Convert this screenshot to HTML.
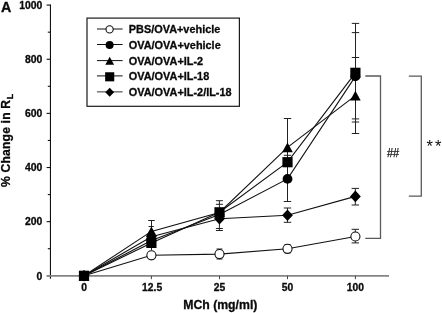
<!DOCTYPE html><html><head><meta charset="utf-8"><style>html,body{margin:0;padding:0;background:#fff}svg{display:block;opacity:0.999;will-change:transform}text{font-family:"Liberation Sans",sans-serif;fill:#0a0a0a}text[font-weight=bold]{stroke:#0a0a0a;stroke-width:0.3px}</style></head><body>
<svg width="442" height="313" viewBox="0 0 442 313">
<rect width="442" height="313" fill="#fff"/>
<g stroke="#111" stroke-width="1.1" fill="none">
<line x1="50.45" y1="4.6" x2="50.45" y2="278.8"/>
<line x1="46.6" y1="275.80" x2="50.45" y2="275.80"/>
<line x1="46.6" y1="221.66" x2="50.45" y2="221.66"/>
<line x1="46.6" y1="167.52" x2="50.45" y2="167.52"/>
<line x1="46.6" y1="113.38" x2="50.45" y2="113.38"/>
<line x1="46.6" y1="59.24" x2="50.45" y2="59.24"/>
<line x1="46.6" y1="5.10" x2="50.45" y2="5.10"/>
<line x1="47.8" y1="248.73" x2="50.45" y2="248.73"/>
<line x1="47.8" y1="194.59" x2="50.45" y2="194.59"/>
<line x1="47.8" y1="140.45" x2="50.45" y2="140.45"/>
<line x1="47.8" y1="86.31" x2="50.45" y2="86.31"/>
<line x1="47.8" y1="32.17" x2="50.45" y2="32.17"/>
</g>
<g stroke="#858585" stroke-width="1.6" fill="none">
<line x1="47" y1="275.90000000000003" x2="389" y2="275.90000000000003"/>
<line x1="151.4" y1="275.8" x2="151.4" y2="279.2" stroke="#444" stroke-width="1"/>
<line x1="219.5" y1="275.8" x2="219.5" y2="279.2" stroke="#444" stroke-width="1"/>
<line x1="287.5" y1="275.8" x2="287.5" y2="279.2" stroke="#444" stroke-width="1"/>
<line x1="355.4" y1="275.8" x2="355.4" y2="279.2" stroke="#444" stroke-width="1"/>
</g>
<line x1="151.5" y1="220.5" x2="151.5" y2="250" stroke="#222" stroke-width="1"/>
<line x1="148.2" y1="220.5" x2="154.8" y2="220.5" stroke="#222" stroke-width="1"/>
<line x1="151.2" y1="226.5" x2="151.2" y2="226.5" stroke="#222" stroke-width="1"/>
<line x1="148.6" y1="226.5" x2="153.79999999999998" y2="226.5" stroke="#222" stroke-width="1"/>
<line x1="219.4" y1="200.7" x2="219.4" y2="230.5" stroke="#222" stroke-width="1"/>
<line x1="215.9" y1="200.7" x2="222.9" y2="200.7" stroke="#222" stroke-width="1"/>
<line x1="215.9" y1="204.3" x2="222.9" y2="204.3" stroke="#222" stroke-width="1"/>
<line x1="215.9" y1="228.5" x2="222.9" y2="228.5" stroke="#222" stroke-width="1"/>
<line x1="215.9" y1="230.5" x2="222.9" y2="230.5" stroke="#222" stroke-width="1"/>
<line x1="219.5" y1="249" x2="219.5" y2="259" stroke="#222" stroke-width="1"/>
<line x1="216.5" y1="249" x2="222.5" y2="249" stroke="#222" stroke-width="1"/>
<line x1="216.5" y1="259" x2="222.5" y2="259" stroke="#222" stroke-width="1"/>
<line x1="287.5" y1="118.5" x2="287.5" y2="201.5" stroke="#222" stroke-width="1"/>
<line x1="283.8" y1="118.5" x2="291.2" y2="118.5" stroke="#222" stroke-width="1"/>
<line x1="283.8" y1="155.3" x2="291.2" y2="155.3" stroke="#222" stroke-width="1"/>
<line x1="283.8" y1="201.5" x2="291.2" y2="201.5" stroke="#222" stroke-width="1"/>
<line x1="287.5" y1="208" x2="287.5" y2="222.3" stroke="#222" stroke-width="1"/>
<line x1="283.8" y1="208" x2="291.2" y2="208" stroke="#222" stroke-width="1"/>
<line x1="283.8" y1="222.3" x2="291.2" y2="222.3" stroke="#222" stroke-width="1"/>
<line x1="287.6" y1="244.5" x2="287.6" y2="253" stroke="#222" stroke-width="1"/>
<line x1="284.6" y1="244.5" x2="290.6" y2="244.5" stroke="#222" stroke-width="1"/>
<line x1="284.6" y1="253" x2="290.6" y2="253" stroke="#222" stroke-width="1"/>
<line x1="355.5" y1="23.4" x2="355.5" y2="133.5" stroke="#222" stroke-width="1"/>
<line x1="351.8" y1="23.4" x2="359.2" y2="23.4" stroke="#222" stroke-width="1"/>
<line x1="351.8" y1="32.6" x2="359.2" y2="32.6" stroke="#222" stroke-width="1"/>
<line x1="351.8" y1="57.5" x2="359.2" y2="57.5" stroke="#222" stroke-width="1"/>
<line x1="351.8" y1="118.9" x2="359.2" y2="118.9" stroke="#222" stroke-width="1"/>
<line x1="351.8" y1="122" x2="359.2" y2="122" stroke="#222" stroke-width="1"/>
<line x1="351.8" y1="133.5" x2="359.2" y2="133.5" stroke="#222" stroke-width="1"/>
<line x1="355.3" y1="188.4" x2="355.3" y2="205" stroke="#222" stroke-width="1"/>
<line x1="351.6" y1="188.4" x2="359.0" y2="188.4" stroke="#222" stroke-width="1"/>
<line x1="351.6" y1="205" x2="359.0" y2="205" stroke="#222" stroke-width="1"/>
<line x1="355.3" y1="229.3" x2="355.3" y2="242.9" stroke="#222" stroke-width="1"/>
<line x1="351.6" y1="229.3" x2="359.0" y2="229.3" stroke="#222" stroke-width="1"/>
<line x1="351.6" y1="242.9" x2="359.0" y2="242.9" stroke="#222" stroke-width="1"/>
<g stroke="#111" stroke-width="1.1" fill="none">
<polyline points="84.0,275.8 151.4,255.3 219.5,254.1 287.5,248.8 355.4,236.5"/>
<polyline points="84.0,275.8 151.4,240.5 219.5,214.6 287.5,178.9 355.4,76.4"/>
<polyline points="84.0,275.8 151.4,231.4 219.5,212.5 287.5,147.3 355.4,95.6"/>
<polyline points="84.0,275.8 151.4,242.9 219.5,212.3 287.5,162.2 355.4,72.8"/>
<polyline points="84.0,275.8 151.4,236.8 219.5,218.7 287.5,215.2 355.4,196.4"/>
</g>
<circle cx="84.0" cy="275.8" r="4.55" fill="#fff" stroke="#111" stroke-width="1.1"/>
<circle cx="151.4" cy="255.3" r="4.55" fill="#fff" stroke="#111" stroke-width="1.1"/>
<circle cx="219.5" cy="254.1" r="4.55" fill="#fff" stroke="#111" stroke-width="1.1"/>
<circle cx="287.5" cy="248.8" r="4.55" fill="#fff" stroke="#111" stroke-width="1.1"/>
<circle cx="355.4" cy="236.5" r="4.55" fill="#fff" stroke="#111" stroke-width="1.1"/>
<circle cx="84.0" cy="275.8" r="4.9" fill="#000"/>
<circle cx="151.4" cy="240.5" r="4.9" fill="#000"/>
<circle cx="219.5" cy="214.6" r="4.9" fill="#000"/>
<circle cx="287.5" cy="178.9" r="4.9" fill="#000"/>
<circle cx="355.4" cy="76.4" r="4.9" fill="#000"/>
<polygon points="84.0,270.95 89.3,280.65000000000003 78.7,280.65000000000003" fill="#000"/>
<polygon points="151.4,226.55 156.70000000000002,236.25 146.1,236.25" fill="#000"/>
<polygon points="219.5,207.65 224.8,217.35 214.2,217.35" fill="#000"/>
<polygon points="287.5,142.45000000000002 292.8,152.15 282.2,152.15" fill="#000"/>
<polygon points="355.4,90.75 360.7,100.44999999999999 350.09999999999997,100.44999999999999" fill="#000"/>
<polygon points="84.0,270.0 89.4,275.8 84.0,281.6 78.6,275.8" fill="#000"/>
<polygon points="151.4,231.0 156.8,236.8 151.4,242.60000000000002 146.0,236.8" fill="#000"/>
<polygon points="219.5,212.89999999999998 224.9,218.7 219.5,224.5 214.1,218.7" fill="#000"/>
<polygon points="287.5,209.39999999999998 292.9,215.2 287.5,221.0 282.1,215.2" fill="#000"/>
<polygon points="355.4,190.6 360.79999999999995,196.4 355.4,202.20000000000002 350.0,196.4" fill="#000"/>
<rect x="78.9" y="270.7" width="10.2" height="10.2" fill="#000"/>
<rect x="146.3" y="237.8" width="10.2" height="10.2" fill="#000"/>
<rect x="214.4" y="207.20000000000002" width="10.2" height="10.2" fill="#000"/>
<rect x="282.4" y="157.1" width="10.2" height="10.2" fill="#000"/>
<rect x="350.29999999999995" y="67.7" width="10.2" height="10.2" fill="#000"/>
<g stroke="#5a5a5a" stroke-width="1.3" fill="none">
<polyline points="365.3,76 380.5,76 380.5,238.3 365.3,238.3"/>
<polyline points="408.8,76.1 421.3,76.1 421.3,196.1 408.8,196.1"/>
</g>
<text x="393" y="157.4" font-size="12.3" text-anchor="middle" textLength="12.2" lengthAdjust="spacingAndGlyphs" stroke="#111" stroke-width="0.25">##</text>
<text x="429.8" y="151.9" font-size="16.5" text-anchor="middle" fill="#222">*</text>
<text x="438.2" y="151.9" font-size="16.5" text-anchor="middle" fill="#222">*</text>
<rect x="87" y="18.1" width="152.4" height="88.2" fill="#fff" stroke="#1a1a1a" stroke-width="1.2"/>
<line x1="97" y1="29.0" x2="122.6" y2="29.0" stroke="#111" stroke-width="1"/>
<text x="128.8" y="32.8" font-size="10.9" font-weight="bold">PBS/OVA+vehicle</text>
<line x1="97" y1="44.5" x2="122.6" y2="44.5" stroke="#111" stroke-width="1"/>
<text x="128.8" y="48.7" font-size="10.9" font-weight="bold">OVA/OVA+vehicle</text>
<line x1="97" y1="60.6" x2="122.6" y2="60.6" stroke="#111" stroke-width="1"/>
<text x="128.8" y="64.5" font-size="10.9" font-weight="bold">OVA/OVA+IL-2</text>
<line x1="97" y1="75.9" x2="122.6" y2="75.9" stroke="#111" stroke-width="1"/>
<text x="128.8" y="80.4" font-size="10.9" font-weight="bold">OVA/OVA+IL-18</text>
<line x1="97" y1="91.8" x2="122.6" y2="91.8" stroke="#777" stroke-width="1.5"/>
<text x="128.8" y="96.0" font-size="10.9" font-weight="bold">OVA/OVA+IL-2/IL-18</text>
<circle cx="109.6" cy="29.4" r="3.6" fill="#fff" stroke="#111" stroke-width="1.1"/>
<circle cx="109.6" cy="45.1" r="4.0" fill="#000"/>
<polygon points="109.69999999999999,56.7 114.1,64.8 105.29999999999998,64.8" fill="#000"/>
<rect x="105.14999999999999" y="72.25" width="9.1" height="9.1" fill="#000"/>
<polygon points="109.69999999999999,87.8 114.1,92.3 109.69999999999999,96.8 105.29999999999998,92.3" fill="#000"/>
<text x="42.4" y="279.5" font-size="10.4" font-weight="bold" text-anchor="end">0</text>
<text x="42.4" y="225.4" font-size="10.4" font-weight="bold" text-anchor="end">200</text>
<text x="42.4" y="171.2" font-size="10.4" font-weight="bold" text-anchor="end">400</text>
<text x="42.4" y="117.1" font-size="10.4" font-weight="bold" text-anchor="end">600</text>
<text x="42.4" y="62.9" font-size="10.4" font-weight="bold" text-anchor="end">800</text>
<text x="42.4" y="8.8" font-size="10.4" font-weight="bold" text-anchor="end">1000</text>
<text x="84.0" y="291.0" font-size="10.3" font-weight="bold" text-anchor="middle">0</text>
<text x="152.1" y="291.0" font-size="10.3" font-weight="bold" text-anchor="middle">12.5</text>
<text x="219.5" y="291.0" font-size="10.3" font-weight="bold" text-anchor="middle">25</text>
<text x="287.5" y="291.0" font-size="10.3" font-weight="bold" text-anchor="middle">50</text>
<text x="355.4" y="291.0" font-size="10.3" font-weight="bold" text-anchor="middle">100</text>
<text x="220.3" y="309.2" font-size="12.25" font-weight="bold" text-anchor="middle">MCh (mg/ml)</text>
<text x="6.2" y="11.6" font-size="14.3" font-weight="bold" text-anchor="middle">A</text>
<text transform="translate(9.9,187) rotate(-90)" font-size="12.1" letter-spacing="0.2" font-weight="bold">% Change in R<tspan font-size="9" dy="3.1" dx="0.4">L</tspan></text>
</svg></body></html>
